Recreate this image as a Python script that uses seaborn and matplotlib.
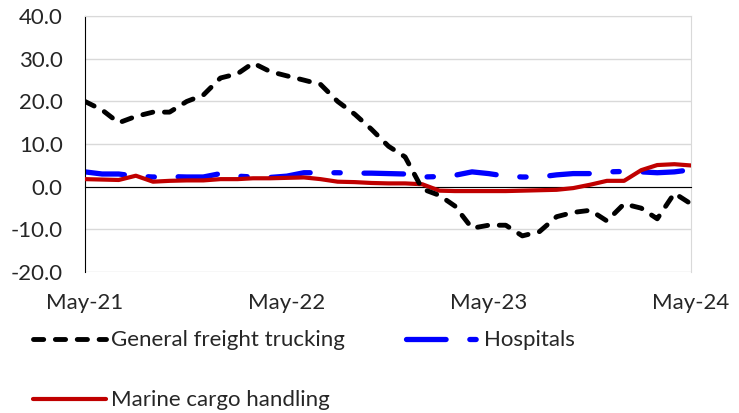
import pandas as pd
import numpy as np
import seaborn as sns
import matplotlib.pyplot as plt
import matplotlib.dates as mdates

# Monthly series, May-21 .. May-24
months = pd.date_range("2021-05-01", "2024-05-01", freq="MS")

freight = [20.0, 18.0, 15.0, 16.5, 17.5, 17.5, 20.0, 21.5, 25.5, 26.5, 29.0, 27.0, 26.0,
           25.0, 24.0, 20.0, 17.0, 13.5, 9.5, 7.0, -0.5, -2.0, -4.5, -9.7, -9.0,
           -9.0, -11.5, -10.5, -7.0, -6.0, -5.5, -8.0, -4.0, -5.0, -7.5, -1.5, -4.0]
hospitals = [3.5, 3.0, 3.0, 2.5, 2.3, 2.4, 2.3, 2.3, 3.1, 2.5, 2.3, 2.2, 2.5,
             3.3, 3.3, 3.3, 3.2, 3.2, 3.1, 3.0, 2.3, 2.4, 2.7, 3.5, 3.1,
             2.5, 2.3, 2.3, 2.8, 3.1, 3.1, 3.5, 3.6, 3.5, 3.3, 3.5, 4.0]
marine = [1.8, 1.7, 1.6, 2.6, 1.2, 1.4, 1.5, 1.5, 1.8, 1.8, 2.0, 2.0, 2.1,
          2.2, 1.8, 1.2, 1.1, 0.9, 0.8, 0.8, 0.6, -0.9, -1.0, -1.0, -1.0,
          -1.0, -0.9, -0.8, -0.7, -0.3, 0.5, 1.4, 1.4, 3.9, 5.1, 5.3, 5.0]

series_names = ["General freight trucking", "Hospitals", "Marine cargo handling"]
colors = {"General freight trucking": "black",
          "Hospitals": "#0000FF",
          "Marine cargo handling": "#C00000"}
dash_map = {"General freight trucking": (2.1, 2.4),
            "Hospitals": (7.5, 4.5, 1.2, 4.5),
            "Marine cargo handling": ""}

df = pd.DataFrame({
    "date": np.tile(months, 3),
    "value": freight + hospitals + marine,
    "series": np.repeat(series_names, len(months)),
})

sns.set_style("white")
plt.rcParams["font.family"] = ["Lato", "DejaVu Sans"]

fig, ax = plt.subplots(figsize=(7.39, 4.13), dpi=100)
fig.subplots_adjust(left=0.115, right=0.935, top=0.961, bottom=0.341)

sns.lineplot(data=df, x="date", y="value", hue="series", style="series",
             hue_order=series_names, style_order=series_names,
             palette=colors, dashes=dash_map, linewidth=3.5, ax=ax, legend=False)

lines = ax.get_lines()
for ln in lines:
    ln.set_dash_capstyle("round")
lines[0].set_zorder(4)
lines[1].set_zorder(2)
lines[1].set_linewidth(3.8)
lines[2].set_linewidth(3.0)
lines[2].set_zorder(3)

ax.set_ylim(-20, 40)
ax.set_yticks(range(-20, 41, 10))
ax.set_yticklabels([f"{v:.1f}" for v in range(-20, 41, 10)], fontsize=16)
ax.set_xlim(months[0], months[-1])
ax.xaxis.set_major_locator(mdates.MonthLocator(bymonth=5))
ax.set_xlabel("")
ax.set_ylabel("")

ax.grid(axis="y", color="#d9d9d9", linewidth=1)
ax.grid(axis="x", visible=False)
ax.spines["top"].set_color("#d9d9d9")
ax.spines["right"].set_color("#d9d9d9")
ax.spines["left"].set_color("black")
ax.spines["bottom"].set_position(("data", 0))
ax.spines["bottom"].set_color("black")
ax.tick_params(axis="x", direction="inout", length=10, width=1, color="black",
               labelbottom=False)
ax.tick_params(axis="y", length=0, pad=16)

# date labels below the plot area
sec = ax.secondary_xaxis(0)
sec.xaxis.set_major_locator(mdates.MonthLocator(bymonth=5))
sec.xaxis.set_major_formatter(mdates.DateFormatter("%b-%y"))
sec.tick_params(length=0, pad=15, labelsize=16)
sec.spines["bottom"].set_visible(False)

# legend filled row by row: freight, hospitals / marine
order = [0, 2, 1]
leg = fig.legend([lines[i] for i in order], [series_names[i] for i in order],
                 ncol=2, loc="upper left",
                 bbox_to_anchor=(0.0447, 0.2), frameon=False, fontsize=16,
                 handlelength=3.3, handletextpad=0.22, borderpad=0,
                 borderaxespad=0, labelspacing=1.8, columnspacing=2.75)
for ln in leg.get_lines():
    ln.set_dash_capstyle("round")

fig.savefig("out.png", dpi=100)
